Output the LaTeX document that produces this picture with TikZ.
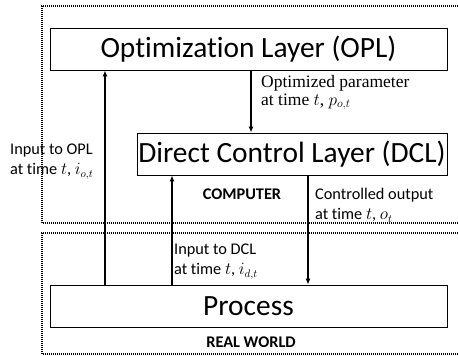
\documentclass[tikz,border=0pt]{standalone}
\usepackage{fontspec}
\setmainfont{Carlito}[Ligatures=NoCommon]
\newfontfamily\timesf{Liberation Serif}
\usetikzlibrary{arrows.meta}
\begin{document}
\begin{tikzpicture}[x=1pt,y=-1pt,
  layer/.style={draw,line width=0.8pt,minimum height=42pt,inner sep=0pt,font=\fontsize{29.4}{32}\selectfont},
  arr/.style={line width=1.4pt,-{Latex[length=6pt,width=5pt]}},
  zone/.style={line width=1.3pt,dash pattern=on 0.9pt off 1.1pt},
  lbl/.style={align=left,inner sep=0pt,font=\fontsize{16.3}{20}\selectfont},
  tlbl/.style={align=left,inner sep=0pt,font=\timesf\fontsize{17.5}{18}\selectfont},
  zlbl/.style={inner sep=0pt,font=\bfseries\fontsize{16.3}{18}\selectfont}]
\useasboundingbox (0,0) rectangle (458,356);
% zones
\draw[zone] (458,6) -- (42,6) -- (42,223) -- (458,223);
\draw[zone] (458,233) -- (42,233) -- (42,354) -- (458,354);
% layers
\node[layer,minimum width=397pt] (opl) at (248.5,49) {Optimization Layer (OPL)};
\node[layer,minimum width=310pt] (dcl) at (292,154) {Direct Control Layer (DCL)};
\node[layer,minimum width=397pt] (proc) at (248.5,306) {Process};
% arrow columns
\coordinate (c1) at (105,0);
\coordinate (c2) at (172,0);
\coordinate (c3) at (251,0);
\coordinate (c4) at (308,0);
\draw[arr] (c1 |- proc.north) -- (c1 |- opl.south);
\draw[arr] (c2 |- proc.north) -- (c2 |- dcl.south);
\draw[arr] (c3 |- opl.south) -- (c3 |- dcl.north);
\draw[arr] (c4 |- dcl.south) -- (c4 |- proc.north);
% labels
\node[tlbl,anchor=north west] (lp) at (261,75) {Optimized parameter\\at time $t$, $p_{o,t}$};
\node[lbl,anchor=north west] (li) at (10,144) {Input to OPL\\at time $t$, $i_{o,t}$};
\node[lbl,anchor=north west] (lo) at (315,188) {Controlled output\\at time $t$, $o_t$};
\node[lbl,anchor=north west] (ld) at (174,244) {Input to DCL\\at time $t$, $i_{d,t}$};
\node[zlbl] (comp) at (242,194) {COMPUTER};
\node[zlbl] (rw) at (251,342) {REAL WORLD};
\end{tikzpicture}
\end{document}
